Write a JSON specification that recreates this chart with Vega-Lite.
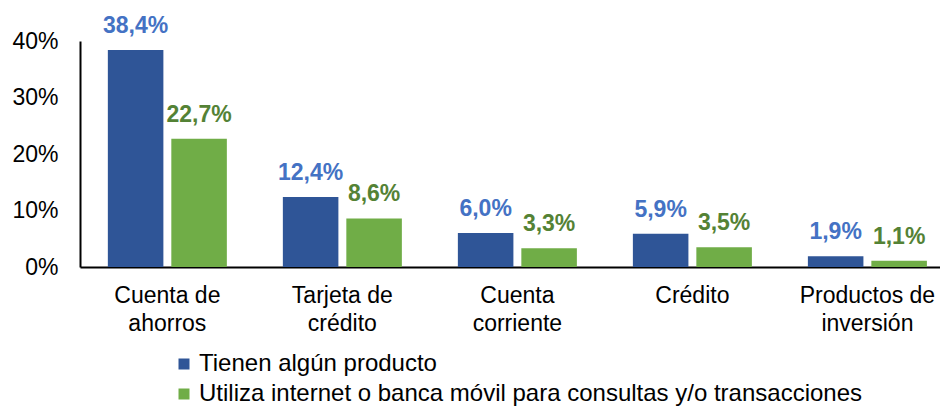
{
  "$schema": "https://vega.github.io/schema/vega-lite/v6.json",
  "autosize": {"type": "none"},
  "padding": {"left": 80, "top": 41, "right": 0, "bottom": 139},
  "width": 860,
  "height": 226,
  "background": "white",
  "config": {
    "locale": {"number": {"decimal": ",", "thousands": ".", "grouping": [3], "currency": ["", " €"]}},
    "font": "Liberation Sans",
    "view": {"stroke": null}
  },
  "data": {
    "values": [
      {"producto": "Cuenta de ahorros", "serie": "Tienen algún  producto", "valor": 0.384},
      {"producto": "Cuenta de ahorros", "serie": "Utiliza internet o banca móvil para consultas y/o transacciones", "valor": 0.227},
      {"producto": "Tarjeta de crédito", "serie": "Tienen algún  producto", "valor": 0.124},
      {"producto": "Tarjeta de crédito", "serie": "Utiliza internet o banca móvil para consultas y/o transacciones", "valor": 0.086},
      {"producto": "Cuenta corriente", "serie": "Tienen algún  producto", "valor": 0.060},
      {"producto": "Cuenta corriente", "serie": "Utiliza internet o banca móvil para consultas y/o transacciones", "valor": 0.033},
      {"producto": "Crédito", "serie": "Tienen algún  producto", "valor": 0.059},
      {"producto": "Crédito", "serie": "Utiliza internet o banca móvil para consultas y/o transacciones", "valor": 0.035},
      {"producto": "Productos de inversión", "serie": "Tienen algún  producto", "valor": 0.019},
      {"producto": "Productos de inversión", "serie": "Utiliza internet o banca móvil para consultas y/o transacciones", "valor": 0.011}
    ]
  },
  "encoding": {
    "x": {
      "field": "producto", "type": "nominal", "sort": null,
      "scale": {"paddingInner": 0.32, "paddingOuter": 0.117, "align": 0.68},
      "axis": {
        "title": null, "labelAngle": 0, "labelFontSize": 23, "labelColor": "#000000",
        "labelLineHeight": 28, "labelPadding": 17, "labelBaseline": "top", "labelLimit": 300,
        "labelExpr": "indexof(datum.label, ' ') < 0 ? datum.label : [slice(datum.label, 0, lastindexof(datum.label, ' ')), slice(datum.label, lastindexof(datum.label, ' ') + 1)]",
        "ticks": false, "domainColor": "#000000", "domainWidth": 2, "grid": false
      }
    },
    "xOffset": {"field": "serie", "type": "nominal", "scale": {"paddingInner": 0.125, "paddingOuter": 0}},
    "y": {
      "field": "valor", "type": "quantitative",
      "scale": {"domain": [0, 0.4], "nice": false},
      "axis": {
        "title": null, "format": ".0%", "values": [0, 0.1, 0.2, 0.3, 0.4],
        "labelFontSize": 23, "labelColor": "#000000", "labelPadding": 22, "labelOverlap": false,
        "ticks": false, "grid": false, "domainColor": "#000000", "domainWidth": 2
      }
    }
  },
  "layer": [
    {
      "mark": {"type": "bar"},
      "encoding": {
        "color": {
          "field": "serie", "type": "nominal",
          "scale": {"range": ["#2F5597", "#70AD47"]},
          "legend": {
            "title": null, "orient": "none", "legendX": 92, "legendY": 311,
            "direction": "vertical", "symbolType": "square", "symbolSize": 121,
            "symbolStrokeWidth": 0, "labelFontSize": 24, "labelColor": "#000000",
            "labelLimit": 800, "rowPadding": 6, "labelOffset": 3
          }
        }
      }
    },
    {
      "mark": {"type": "text", "fontSize": 23, "fontWeight": "bold", "baseline": "alphabetic", "dy": -17},
      "encoding": {
        "text": {"field": "valor", "type": "quantitative", "format": ".1%"},
        "color": {
          "condition": {"test": "datum.serie == 'Tienen algún  producto'", "value": "#4472C4"},
          "value": "#548235"
        }
      }
    }
  ]
}
